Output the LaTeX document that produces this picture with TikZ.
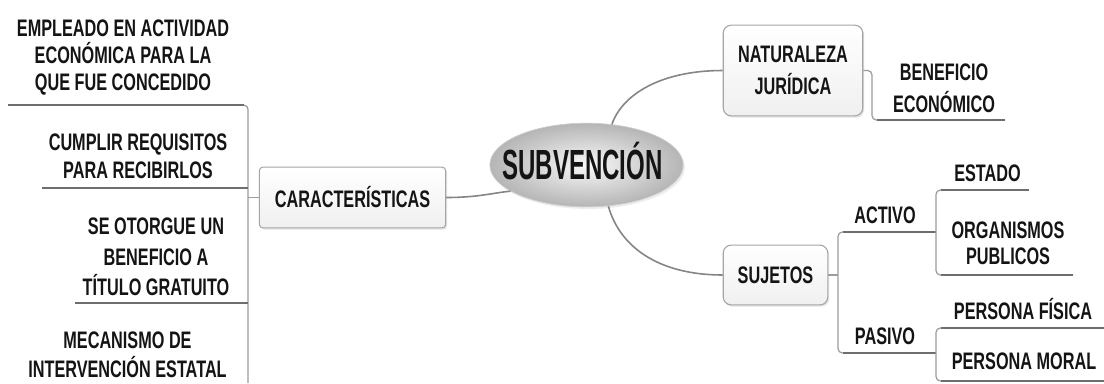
\documentclass[tikz,border=0pt]{standalone}
\usepackage{fontspec}
\newfontfamily\mmfont[FakeStretch=0.68]{Liberation Sans}
\newfontfamily\mmbig[FakeStretch=0.57]{Liberation Sans}
\usetikzlibrary{shadows,shapes.geometric}
\definecolor{ulc}{HTML}{6E6E6E}
\definecolor{vlc}{HTML}{9C9C9C}
\definecolor{cvc}{HTML}{858585}
\definecolor{txc}{HTML}{141414}
\definecolor{bdc}{HTML}{A5A5A5}
\begin{document}
\begin{tikzpicture}[x=0.02cm,y=-0.02cm,
  txt/.style={inner sep=0pt, text=txc, align=center},
  f/.style={font={\mmfont\bfseries\fontsize{13.6pt}{#1}\selectfont}},
  boxstyle/.style={draw=bdc, line width=0.6pt, top color=white, bottom color=gray!12,
     text=txc, align=center, inner sep=0pt,
     drop shadow={opacity=0.22, shadow xshift=0.8pt, shadow yshift=-1pt}},
  ul/.style={draw=ulc, line width=1.1pt},
  vl/.style={draw=vlc, line width=0.7pt, rounded corners=2.5pt},
  cv/.style={draw=cvc, line width=0.9pt}]
\fill[white] (0,0) rectangle (1104,383);
\useasboundingbox (0,0) rectangle (1104,383);

% ---- central topic
\node[ellipse, minimum width=110pt, minimum height=47.6pt, inner sep=0pt,
      draw=gray!40, line width=0.4pt, shading=radial, inner color=gray!5, outer color=gray!58,
      drop shadow={opacity=0.15, shadow xshift=1pt, shadow yshift=-1.2pt}] (sub) at (586.5,165) {};
\node[txt, anchor=base, font={\mmbig\bfseries\fontsize{24pt}{26pt}\selectfont}] (subt) at (582.5,179) {SUBVENCIÓN};

% ---- main topics
\node[boxstyle, rounded corners=2pt, minimum width=106pt, minimum height=34.6pt, f={15pt}] (car) at (352.5,197.5) {CARACTERÍSTICAS};
\node[boxstyle, rounded corners=4.5pt, minimum width=79.4pt, minimum height=51.6pt, f={18.1pt}] (nat) at (793,70.5) {NATURALEZA\\JURÍDICA};
\node[boxstyle, rounded corners=4.5pt, minimum width=59.5pt, minimum height=34pt, f={15pt}] (suj) at (775.5,275) {SUJETOS};

% ---- left subtopics
\node[txt, f={15.6pt}] (t1) at (123,57.5) {EMPLEADO EN ACTIVIDAD\\ECONÓMICA PARA LA\\QUE FUE CONCEDIDO};
\node[txt, f={16.2pt}] (t2) at (138,156) {CUMPLIR REQUISITOS\\PARA RECIBIRLOS};
\node[txt, f={17.3pt}] (t3) at (156,257) {SE OTORGUE UN\\BENEFICIO A\\TÍTULO GRATUITO};
\node[txt, f={16.4pt}] (t4) at (127.5,355) {MECANISMO DE\\INTERVENCIÓN ESTATAL};

% ---- right subtopics
\node[txt, f={18pt}] (ben) at (944,88) {BENEFICIO\\ECONÓMICO};
\node[txt, f={15pt}, anchor=base] (act) at (885,223) {ACTIVO};
\node[txt, f={15pt}, anchor=base] (pas) at (885,344) {PASIVO};
\node[txt, f={15pt}, anchor=base] (est) at (987.5,181.5) {ESTADO};
\node[txt, f={14.7pt}] (org) at (1008,243) {ORGANISMOS\\PUBLICOS};
\node[txt, f={15pt}, anchor=base] (pf) at (1023,319.5) {PERSONA FÍSICA};
\node[txt, f={15pt}, anchor=base] (pm) at (1024,369) {PERSONA MORAL};

% ---- coordinates
\coordinate (l1w) at (8,105);
\coordinate (lvt) at (248,105);
\coordinate (lvb) at (248,383);
\coordinate (l2w) at (42,188);
\coordinate (l2e) at (248,188);
\coordinate (l3w) at (75,303);
\coordinate (l3e) at (248,303);
\coordinate (lst) at (248,197.5);

\coordinate (nbj) at (872,70.5);
\coordinate (nbc) at (872,120);
\coordinate (nbe) at (1005,120);

\coordinate (sst) at (838,275);
\coordinate (sat) at (838,232);
\coordinate (sab) at (838,353);
\coordinate (aj)  at (936,232);
\coordinate (pj)  at (936,353);
\coordinate (aet) at (936,190);
\coordinate (aee) at (1029,190);
\coordinate (aob) at (936,275);
\coordinate (aoe) at (1073,275);
\coordinate (ppt) at (936,328);
\coordinate (ppe) at (1104,328);
\coordinate (ppb) at (936,381);
\coordinate (pme) at (1104,381);

% ---- central connectors
\draw[cv] (car.east) .. controls (478,197.5) and (492,193) .. (sub.199);
\draw[cv] (sub.58) .. controls (622,95) and (660,70.5) .. (nat.west);
\draw[cv] (sub.-62) .. controls (620,248) and (660,275) .. (suj.west);

% ---- left branch
\draw[vl] (l1w) -- (lvt) -- (lvb);
\draw[ul] (l1w) -- ([xshift=-2pt]lvt);
\draw[ul] (l2w) -- (l2e);
\draw[ul] (l3w) -- (l3e);
\draw[vl] (lst) -- (car.west);

% ---- naturaleza branch
\draw[vl] (nat.east) -- (nbj) -- (nbc) -- (nbe);
\draw[ul] ([xshift=3pt]nbc) -- (nbe);

% ---- sujetos branch
\draw[vl] (suj.east) -- (sst);
\draw[vl] (aj) -- (sat) -- (sab) -- (pj);
\draw[ul] ([xshift=3pt]sat) -- (aj);
\draw[ul] ([xshift=3pt]sab) -- (pj);
\draw[vl] (aee) -- (aet) -- (aob) -- (aoe);
\draw[ul] ([xshift=3pt]aet) -- (aee);
\draw[ul] ([xshift=3pt]aob) -- (aoe);
\draw[vl] (ppe) -- (ppt) -- (ppb) -- (pme);
\draw[ul] ([xshift=3pt]ppt) -- (ppe);
\draw[ul] ([xshift=3pt]ppb) -- (pme);
\end{tikzpicture}
\end{document}
